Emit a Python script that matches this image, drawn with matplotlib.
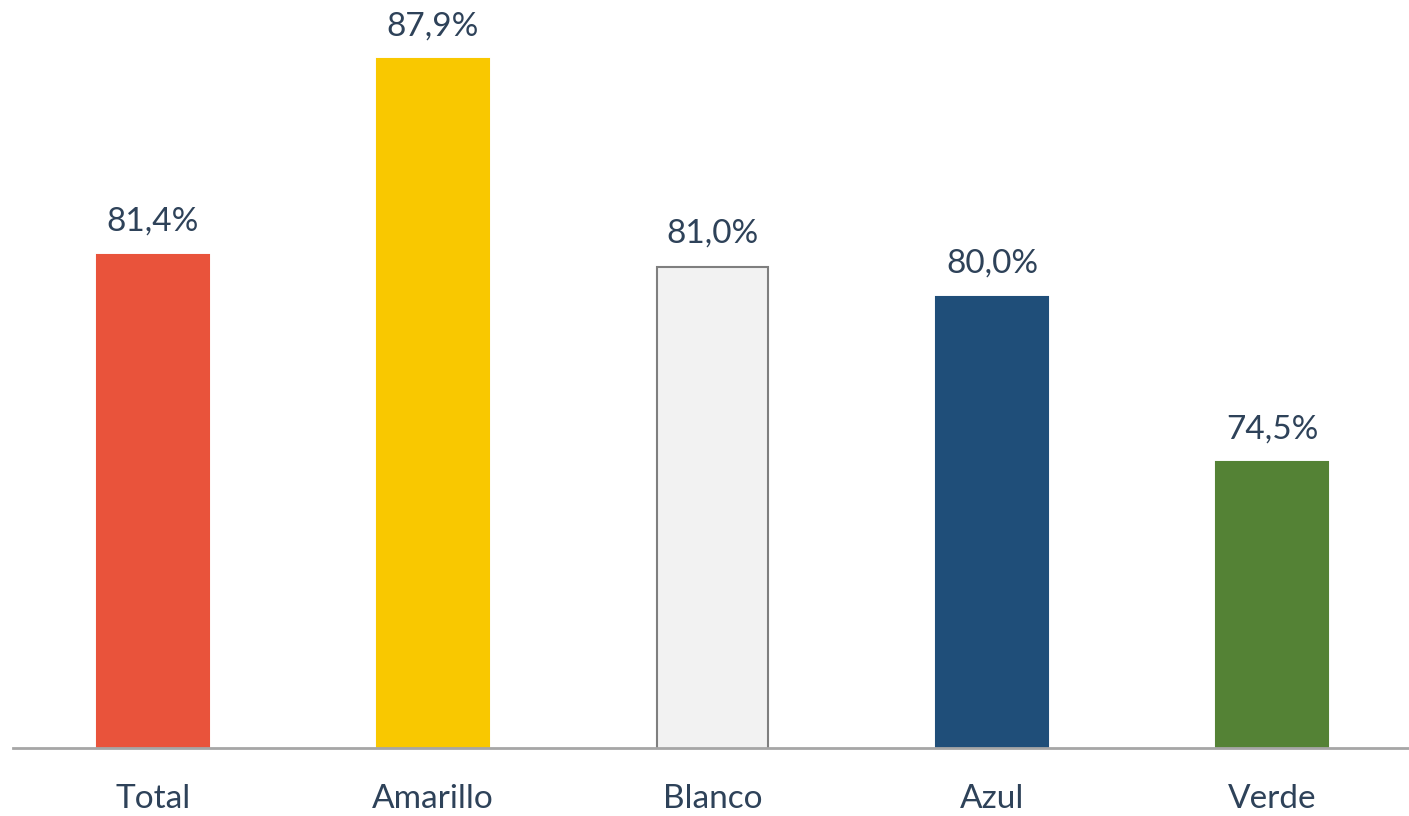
import matplotlib.pyplot as plt

# Percentages by group
categories = ['Total', 'Amarillo', 'Blanco', 'Azul', 'Verde']
values = [81.4, 87.9, 81.0, 80.0, 74.5]
colors = ['#E9533B', '#F9C800', '#F2F2F2', '#1F4E79', '#548235']
edges = ['#E9533B', '#F9C800', '#7F7F7F', '#1F4E79', '#548235']

text_color = '#2E4259'
plt.rcParams['font.family'] = ['Lato', 'DejaVu Sans']

fig = plt.figure(figsize=(14.09, 8.16), dpi=100)
ax = fig.add_axes([13 / 1409, 68 / 816, 1399 / 1409, 748 / 816])

x = range(len(categories))
bars = ax.bar(x, values, width=0.4, color=colors, edgecolor=edges, linewidth=1.5)

for b, v in zip(bars, values):
    ax.annotate(f'{v:.1f}%'.replace('.', ','),
                (b.get_x() + b.get_width() / 2, v),
                xytext=(0, 13), textcoords='offset points',
                ha='center', va='bottom', fontsize=24, color=text_color)

ax.set_xlim(-0.5, 4.5)
ax.set_ylim(65, 89.87)
ax.set_xticks(list(x))
ax.set_xticklabels(categories, fontsize=24, color=text_color)
ax.tick_params(axis='x', length=0, pad=26)
ax.set_yticks([])

for side in ['top', 'right', 'left']:
    ax.spines[side].set_visible(False)
ax.spines['bottom'].set_color('#A6A6A6')
ax.spines['bottom'].set_linewidth(2)

fig.savefig('out.png', dpi=100)
